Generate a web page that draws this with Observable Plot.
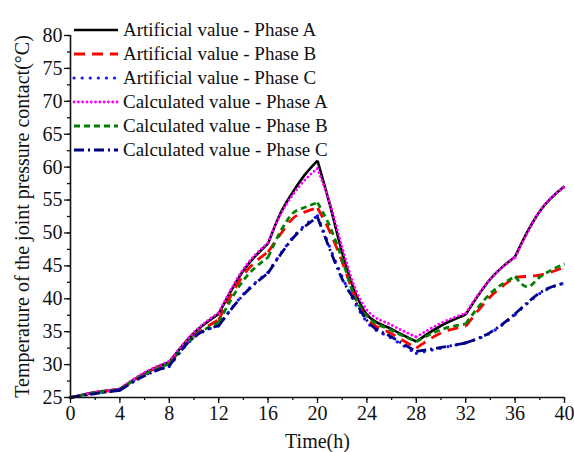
<!DOCTYPE html>
<html><head><meta charset="utf-8">
<script src="https://cdn.jsdelivr.net/npm/d3@7"></script>
<script src="https://cdn.jsdelivr.net/npm/@observablehq/plot@0.6"></script>
<style>
body{margin:0;background:#fff;}
#chart{position:relative;width:574px;height:452px;}
</style></head><body><div id="chart"></div>
<script>
const hours        = [0, 2, 4, 6, 8, 10, 12, 14, 16, 17, 18, 19, 20, 21, 22, 23, 24, 26, 28, 30, 32, 34, 36, 37, 38, 40];
const artificialA  = [25, 25.8, 26.3, 28.7, 30.4, 34.8, 37.7, 44.3, 48.4, 53.0, 56.2, 58.9, 61.0, 54.3, 47.0, 41.2, 37.6, 35.4, 33.5, 35.9, 37.6, 43.0, 46.4, 50.2, 53.3, 57.1];
const artificialB  = [25, 25.7, 26.2, 28.6, 30.2, 34.3, 36.8, 43.6, 47.1, 49.8, 52.2, 53.2, 53.8, 50.2, 45.6, 40.5, 37.0, 34.7, 32.5, 34.8, 35.8, 40.3, 43.3, 43.4, 43.6, 44.8];
const artificialC  = [25, 25.6, 26.1, 28.4, 29.7, 34.1, 35.9, 40.7, 44.0, 46.8, 49.3, 51.2, 52.6, 47.8, 43.3, 39.5, 36.5, 34.0, 31.7, 32.5, 33.3, 34.8, 37.6, 39.3, 40.8, 42.4];
const calculatedA  = [25, 25.8, 26.3, 28.8, 30.5, 34.9, 37.9, 44.5, 48.5, 52.8, 55.8, 58.1, 59.8, 54.5, 47.8, 41.8, 38.3, 36.0, 34.2, 36.3, 37.8, 43.0, 46.3, 50.0, 53.3, 57.0];
const calculatedB  = [25, 25.7, 26.2, 28.5, 30.1, 34.2, 36.4, 42.8, 46.3, 50.2, 53.0, 53.9, 54.6, 51.0, 46.0, 40.3, 37.4, 35.2, 33.5, 35.3, 36.2, 40.8, 43.4, 41.8, 43.3, 45.3];
const calculatedC  = [25, 25.6, 26.1, 28.3, 29.8, 34.2, 35.9, 40.6, 43.9, 46.7, 49.2, 51.0, 52.4, 47.5, 43.0, 39.8, 36.7, 34.2, 32.0, 32.6, 33.3, 34.9, 37.7, 39.4, 40.9, 42.4];
// hours at which the curves change direction sharply (load steps)
const kinks = [0, 4, 8, 12, 16, 20, 28, 32, 36, 40];

const seriesNames = [
  "Artificial value - Phase A",
  "Artificial value - Phase B",
  "Artificial value - Phase C",
  "Calculated value - Phase A",
  "Calculated value - Phase B",
  "Calculated value - Phase C"
];
const seriesValues = [artificialA, artificialB, artificialC, calculatedA, calculatedB, calculatedC];
const seriesColors = ["#000000", "#ff0000", "#1a1aff", "#ff00ff", "#008000", "#000080"];
const seriesDash = [null, "11,7", "0.1,8", "0.1,4.2", "6,4", "10,4,2,4"];
const seriesWidth = [2.6, 2.8, 3.2, 2.8, 2.8, 2.8];
const seriesCap = ["butt", "butt", "round", "round", "butt", "butt"];

const xTicks = d3.range(0, 41, 4);
const xMinor = d3.range(0, 41, 2);
const yTicks = d3.range(25, 81, 5);
const yMinor = d3.range(25, 80.1, 2.5);

const font = "'Liberation Serif', 'Times New Roman', serif";

// split each series into segments between kinks (shared end points), smooth inside each
function segmentRows(vals) {
  const rows = [];
  for (let k = 0; k < kinks.length - 1; k++) {
    const a = kinks[k], b = kinks[k + 1];
    hours.forEach((t, j) => {
      if (t >= a && t <= b) rows.push({t, v: vals[j], seg: k});
    });
  }
  return rows;
}

const lineMarks = seriesValues.map((vals, i) =>
  Plot.line(segmentRows(vals), {
    x: "t", y: "v", z: "seg",
    stroke: seriesColors[i],
    strokeWidth: seriesWidth[i],
    strokeDasharray: seriesDash[i],
    strokeLinecap: seriesCap[i],
    strokeLinejoin: "round",
    curve: "monotone-x"
  })
);

const chart = Plot.plot({
  width: 574,
  height: 452,
  marginLeft: 70,
  marginRight: 10,
  marginTop: 35,
  marginBottom: 55,
  style: {fontFamily: font, fontSize: "20px", color: "#111", background: "#fff"},
  x: {domain: [0, 40]},
  y: {domain: [25, 80]},
  marks: [
    ...lineMarks,
    Plot.axisX({ticks: xMinor, tickSize: 3, tickFormat: () => "", label: null, strokeWidth: 1.3}),
    Plot.axisX({ticks: xTicks, tickSize: 6, tickPadding: 2, tickFormat: d => String(d), label: "Time(h)", labelAnchor: "center", labelArrow: "none", labelOffset: 50, strokeWidth: 1.3}),
    Plot.axisY({ticks: yMinor, tickSize: 3, tickFormat: () => "", label: null, strokeWidth: 1.3}),
    Plot.axisY({ticks: yTicks, tickSize: 6, tickPadding: 2, tickFormat: d => String(d), label: "Temperature of the joint pressure contact(°C)", labelAnchor: "center", labelArrow: "none", labelOffset: 56, strokeWidth: 1.3}),
    Plot.ruleX([0], {stroke: "#111", strokeWidth: 1.6}),
    Plot.ruleY([25], {stroke: "#111", strokeWidth: 1.6})
  ]
});

document.getElementById("chart").appendChild(chart);

// legend (inside the top-left of the plot area)
const svg = d3.select(chart);
const lg = svg.append("g")
  .attr("font-family", font)
  .attr("font-size", 19)
  .attr("fill", "#111")
  .attr("text-anchor", "start");
seriesNames.forEach((name, i) => {
  const y = 30 + i * 24;
  lg.append("line")
    .attr("x1", 74).attr("x2", 118).attr("y1", y).attr("y2", y)
    .attr("stroke", seriesColors[i])
    .attr("stroke-width", seriesWidth[i])
    .attr("stroke-dasharray", seriesDash[i])
    .attr("stroke-linecap", seriesCap[i]);
  lg.append("text").attr("x", 123).attr("y", y + 6).text(name);
});
</script>
</body></html>
